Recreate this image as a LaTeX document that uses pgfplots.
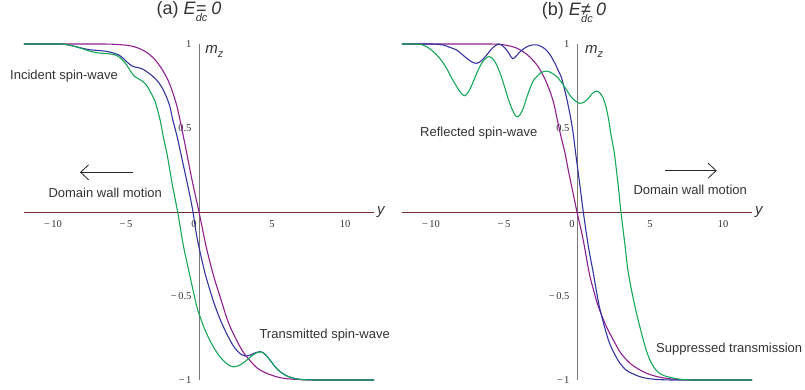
\documentclass[border=0pt]{standalone}
\usepackage{pgfplots}
\pgfplotsset{compat=1.18}
\usepackage{fontspec}
\setmainfont{Liberation Sans}
\newfontfamily\numfont{Liberation Serif}
\usetikzlibrary{arrows.meta}

\definecolor{cpurple}{RGB}{142,32,142}
\definecolor{cblue}{RGB}{52,52,160}
\definecolor{cgreen}{RGB}{22,168,88}
\definecolor{xaxiscol}{RGB}{112,42,42}
\definecolor{yaxiscol}{RGB}{120,120,120}
\definecolor{txt}{RGB}{51,51,51}

% subscripted field symbol, subscript tucked under the following sign
\newcommand\Edc{\textit{E}\rlap{\raisebox{-7pt}{\fontsize{11}{11}\selectfont\itshape dc}}}
\newcommand\mz{\textit{m}\raisebox{-4pt}{\fontsize{11}{11}\selectfont\itshape z}}
% minus sign with a little air before the digits
\newcommand\mn{−\kern1.5pt}

\tikzset{
  ticklab/.style={font=\numfont\fontsize{10.5}{12}\selectfont, text=txt},
  note/.style={font=\fontsize{13}{15}\selectfont, text=txt, inner sep=0pt, anchor=base west},
}

\pgfplotsset{
  wallaxis/.style={
    scale only axis, width=350.4pt, height=336pt,
    xmin=-12, xmax=12, ymin=-1, ymax=1,
    axis lines=middle,
    x axis line style={-, draw=xaxiscol, line width=0.8pt},
    y axis line style={-, draw=yaxiscol, line width=0.8pt},
    major tick length=0pt,
    xtick={-10,-5,5,10},
    xticklabels={\mn10,\mn5,5,10},
    ytick={-1,-0.5,0.5,1},
    yticklabels={\mn1,\mn0.5,0.5,1},
    xticklabel style={ticklab, yshift=-5pt},
    yticklabel style={ticklab, xshift=-4pt},
    clip=false,
    anchor=south west,
  },
  wall/.style={line width=1.1pt, smooth, tension=0.5, mark=none},
}

\begin{document}
\begin{tikzpicture}
\useasboundingbox (0pt,0pt) rectangle (805pt,390pt);

% ---------------- (a) no electric field ----------------
\begin{axis}[wallaxis, at={(23.8pt,10pt)}]
\addplot[wall, cpurple] coordinates {
(-12,1) (-11,1) (-10,1) (-9,1) (-8,1) (-7,1) (-6,0.999) (-5,0.993) (-4.5,0.985)
(-4,0.97) (-3.5,0.945) (-3,0.905) (-2.5,0.845) (-2,0.76) (-1.5,0.625) (-1,0.42)
(-0.5,0.2) (0,0) (0.5,-0.21) (1,-0.38) (1.5,-0.52) (2,-0.655) (2.5,-0.75)
(3,-0.83) (3.5,-0.885) (4,-0.93) (4.5,-0.955) (5,-0.972) (5.5,-0.985) (6,-0.992)
(7,-0.998) (8,-1) (9,-1) (10,-1) (11,-1) (12,-1)};
\addplot[wall, cblue] coordinates {
(-12,1) (-11,1) (-10,1) (-9.5,1) (-9,0.995) (-8.5,0.986) (-8,0.975) (-7.5,0.966)
(-7,0.962) (-6.5,0.958) (-6,0.95) (-5.5,0.935) (-5.2,0.915) (-4.9,0.89)
(-4.6,0.87) (-4.35,0.862) (-4.1,0.858) (-3.8,0.848) (-3.5,0.83) (-3.2,0.81)
(-2.9,0.785) (-2.6,0.75) (-2.3,0.7) (-2,0.63) (-1.8,0.55) (-1.5,0.45)
(-1.25,0.35) (-1,0.25) (-0.75,0.15) (-0.45,0.02) (-0.2,-0.12) (0,-0.21)
(0.4,-0.36) (0.8,-0.48) (1.1,-0.56) (1.5,-0.65) (1.9,-0.725) (2.3,-0.79)
(2.6,-0.825) (2.9,-0.848) (3.2,-0.857) (3.5,-0.852) (3.8,-0.84) (4.2,-0.831)
(4.5,-0.845) (4.9,-0.885) (5.2,-0.92) (5.55,-0.95) (6,-0.975) (6.5,-0.99)
(7,-0.997) (8,-1) (9,-1) (10,-1) (11,-1) (12,-1)};
\addplot[wall, cgreen] coordinates {
(-12,1) (-11,1) (-10,1) (-9.5,1) (-9,0.995) (-8.5,0.985) (-8,0.972) (-7.5,0.958)
(-7,0.948) (-6.5,0.944) (-6,0.94) (-5.6,0.93) (-5.3,0.91) (-5,0.88) (-4.7,0.84)
(-4.45,0.81) (-4.2,0.795) (-3.9,0.78) (-3.6,0.755) (-3.3,0.71) (-3,0.655)
(-2.67,0.55) (-2.45,0.45) (-2.2,0.35) (-2,0.25) (-1.8,0.15) (-1.46,0)
(-1.07,-0.2) (-0.66,-0.365) (-0.16,-0.56) (0.1,-0.63) (0.4,-0.7) (0.75,-0.765)
(1.1,-0.82) (1.44,-0.862) (1.8,-0.895) (2.1,-0.915) (2.35,-0.922) (2.7,-0.915)
(3,-0.9) (3.3,-0.88) (3.6,-0.857) (3.9,-0.84) (4.2,-0.833) (4.5,-0.845)
(4.9,-0.885) (5.2,-0.92) (5.55,-0.95) (6,-0.975) (6.5,-0.99) (7,-0.997)
(8,-1) (9,-1) (10,-1) (11,-1) (12,-1)};
\node[ticklab, anchor=north, yshift=-5pt] at (axis cs:-0.35,0) {0};
\node[inner sep=0pt, anchor=base west, text=txt, font=\fontsize{15}{15}\selectfont] at (axis cs:0.42,0.946) {\mz};
\node[inner sep=0pt, anchor=base west, text=txt, font=\fontsize{15}{15}\selectfont\itshape] at (axis cs:12.19,-0.012) {y};
\end{axis}

% ---------------- (b) with electric field ----------------
\begin{axis}[wallaxis, at={(401.8pt,10pt)}]
\addplot[wall, cpurple] coordinates {
(-12,1) (-11,1) (-10,1) (-9,1) (-8,1) (-7,1) (-6,1) (-5.3,0.998) (-4.7,0.99)
(-4.2,0.978) (-3.7,0.955) (-3.2,0.92) (-2.7,0.87) (-2.3,0.81) (-1.9,0.73)
(-1.6,0.65) (-1.35,0.55) (-1.1,0.45) (-0.82,0.35) (-0.6,0.25) (-0.36,0.15)
(0,0) (0.4,-0.155) (0.84,-0.365) (1.15,-0.47) (1.46,-0.563) (2,-0.68)
(2.49,-0.762) (3,-0.84) (3.63,-0.9) (4.2,-0.935) (4.77,-0.96) (5.4,-0.978)
(6.1,-0.99) (7,-0.997) (8,-1) (9,-1) (10,-1) (11,-1) (12,-1)};
\addplot[wall, cblue] coordinates {
(-12,1) (-11,1) (-10,1) (-9.5,0.998) (-9.16,0.994) (-8.7,0.98) (-8.24,0.964)
(-7.9,0.94) (-7.55,0.915) (-7.2,0.893) (-6.87,0.885) (-6.55,0.9) (-6.18,0.935)
(-5.8,0.975) (-5.39,1) (-5.1,0.99) (-4.82,0.964) (-4.6,0.935) (-4.41,0.913)
(-4.2,0.925) (-3.9,0.954) (-3.6,0.975) (-3.33,0.988) (-3,0.995) (-2.76,0.995)
(-2.4,0.983) (-2.08,0.962) (-1.8,0.93) (-1.51,0.885) (-1.25,0.835) (-1.05,0.796)
(-0.71,0.677) (-0.43,0.558) (-0.25,0.46) (-0.09,0.349) (0.21,0.151) (0.43,0)
(0.78,-0.206) (1.12,-0.365) (1.53,-0.563) (2.15,-0.762) (2.6,-0.85)
(2.95,-0.901) (3.35,-0.94) (3.75,-0.96) (4.3,-0.98) (4.77,-0.99) (5.5,-0.997)
(6.5,-1) (8,-1) (10,-1) (12,-1)};
\addplot[wall, cgreen] coordinates {
(-12,1) (-11,1) (-10.6,0.995) (-10.3,0.984) (-9.95,0.962) (-9.61,0.935)
(-9.27,0.9) (-8.93,0.855) (-8.6,0.8) (-8.24,0.746) (-7.95,0.708) (-7.67,0.692)
(-7.4,0.72) (-7.1,0.776) (-6.8,0.84) (-6.53,0.885) (-6.25,0.915) (-6.01,0.925)
(-5.75,0.91) (-5.5,0.875) (-5.2,0.81) (-4.93,0.736) (-4.7,0.67) (-4.47,0.617)
(-4.27,0.58) (-4.09,0.567) (-3.9,0.58) (-3.68,0.617) (-3.45,0.68) (-3.22,0.736)
(-3,0.78) (-2.76,0.806) (-2.45,0.83) (-2.08,0.839) (-1.75,0.828) (-1.39,0.806)
(-1.05,0.77) (-0.71,0.726) (-0.35,0.68) (0.16,0.647) (0.5,0.655) (0.78,0.677)
(1.05,0.705) (1.35,0.72) (1.6,0.705) (1.8,0.677) (2,0.62) (2.15,0.558)
(2.35,0.45) (2.56,0.349) (2.83,0.151) (3.01,0) (3.29,-0.2) (3.52,-0.365)
(3.97,-0.563) (4.54,-0.762) (4.85,-0.85) (5.11,-0.901) (5.4,-0.94)
(5.68,-0.962) (6,-0.975) (6.37,-0.984) (7,-0.995) (8,-1) (9,-1) (10,-1)
(11,-1) (12,-1)};
\node[ticklab, anchor=north, yshift=-5pt] at (axis cs:-0.35,0) {0};
\node[inner sep=0pt, anchor=base west, text=txt, font=\fontsize{15}{15}\selectfont] at (axis cs:0.55,0.946) {\mz};
\node[inner sep=0pt, anchor=base west, text=txt, font=\fontsize{15}{15}\selectfont\itshape] at (axis cs:12.19,-0.012) {y};
\end{axis}

% titles
\node[anchor=base, text=txt, font=\fontsize{18}{20}\selectfont, inner sep=0pt] at (189pt,375pt) {(a) \Edc\textit{= 0}};
\node[anchor=base, text=txt, font=\fontsize{18}{20}\selectfont, inner sep=0pt] at (574pt,374pt) {(b) \Edc\textit{≠ 0}};

% annotations
\node[note] at (10pt,310pt) {Incident spin-wave};
\node[note] at (48.3pt,192.7pt) {Domain wall motion};
\draw[line width=0.8pt, black!85, -{Straight Barb[length=8pt,width=15pt]}] (133.3pt,217.7pt) -- (80pt,217.7pt);
\node[note] at (259.3pt,51.7pt) {Transmitted spin-wave};
\node[note] at (420pt,253.3pt) {Reflected spin-wave};
\draw[line width=0.8pt, black!85, -{Straight Barb[length=8pt,width=15pt]}] (665pt,219.3pt) -- (716.7pt,219.3pt);
\node[note] at (633.3pt,195pt) {Domain wall motion};
\node[note] at (656pt,37.3pt) {Suppressed transmission};
\end{tikzpicture}
\end{document}
